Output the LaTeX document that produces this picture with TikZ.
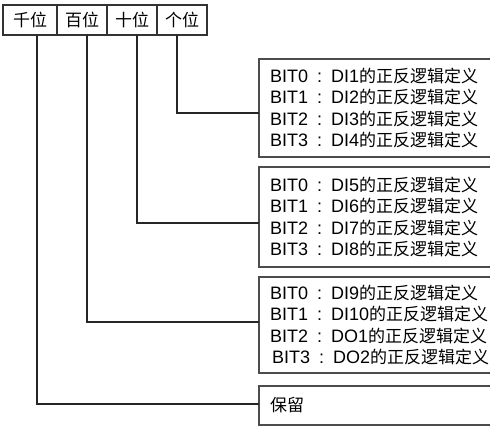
\documentclass[tikz,border=0pt]{standalone}
\usepackage{fontspec}
\setmainfont{Liberation Sans}
\newfontfamily\cjk{Noto Sans CJK SC}
\usetikzlibrary{positioning}
\frenchspacing
\newcommand{\zh}[1]{{\cjk\fontsize{17}{21.5}\selectfont #1}}
\newcommand{\bitsep}{\enspace:\enspace}

\begin{document}
\begin{tikzpicture}[
    x=1pt, y=1pt,
    digit/.style={rectangle, draw=black!80, line width=1.2pt, minimum height=30pt, minimum width=50pt, inner sep=0pt, outer sep=0pt, font=\cjk\fontsize{17}{20}\selectfont},
    bitbox/.style={rectangle, draw=black!70, line width=1.6pt, text width=224pt, inner xsep=11pt, inner ysep=0pt, align=left, outer sep=0pt, font=\fontsize{18}{21.5}\selectfont},
    link/.style={draw=black!85, line width=1.1pt}
]
\clip (0,0) rectangle (490,426);

% --- Digit positions ---
\node[digit, minimum width=54pt] (qian) at (30,406) {千位};
\node[digit, right=0pt of qian] (bai) {百位};
\node[digit, right=0pt of bai] (shi) {十位};
\node[digit, right=0pt of shi] (ge) {个位};

% --- Bit definitions ---
\node[bitbox, minimum height=98pt, anchor=north west] (bits1) at (259,367) {BIT0\bitsep DI1\zh{的正反逻辑定义}\\BIT1\bitsep DI2\zh{的正反逻辑定义}\\BIT2\bitsep DI3\zh{的正反逻辑定义}\\BIT3\bitsep DI4\zh{的正反逻辑定义}};
\node[bitbox, minimum height=100pt, below=10pt of bits1] (bits2) {BIT0\bitsep DI5\zh{的正反逻辑定义}\\BIT1\bitsep DI6\zh{的正反逻辑定义}\\BIT2\bitsep DI7\zh{的正反逻辑定义}\\BIT3\bitsep DI8\zh{的正反逻辑定义}};
\node[bitbox, minimum height=96pt, below=10pt of bits2] (bits3) {BIT0\bitsep DI9\zh{的正反逻辑定义}\\BIT1\bitsep DI10\zh{的正反逻辑定义}\\BIT2\bitsep DO1\zh{的正反逻辑定义}\\\hspace*{2pt}BIT3\bitsep DO2\zh{的正反逻辑定义}};
\node[bitbox, minimum height=39pt, below=13pt of bits3] (bits4) {\zh{保留}};

% --- Connectors ---
\draw[link] ([xshift=-5pt]ge.south) |- ([yshift=-5pt]bits1.west);
\draw[link] ([xshift=5pt]shi.south) |- ([yshift=-6pt]bits2.west);
\draw[link] ([xshift=5pt]bai.south) |- ([yshift=3pt]bits3.west);
\draw[link] ([xshift=7pt]qian.south) |- ([yshift=1.5pt]bits4.west);

\end{tikzpicture}
\end{document}
